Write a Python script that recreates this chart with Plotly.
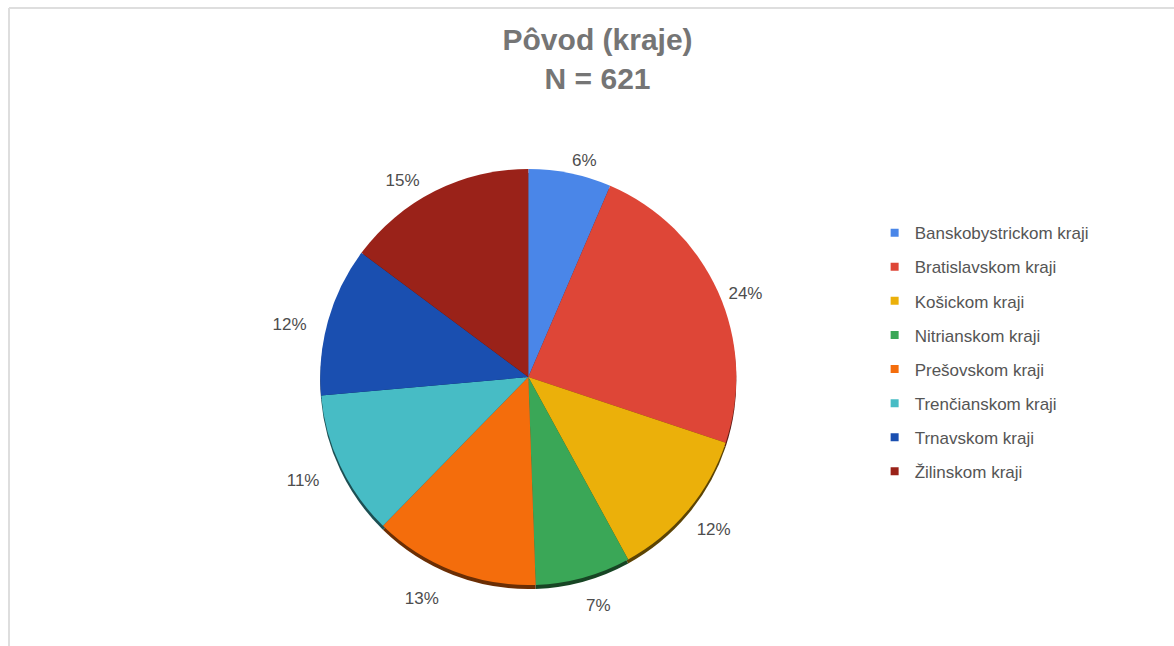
import plotly.graph_objects as go

regions = ["Banskobystrickom kraji", "Bratislavskom kraji", "Košickom kraji",
           "Nitrianskom kraji", "Prešovskom kraji", "Trenčianskom kraji",
           "Trnavskom kraji", "Žilinskom kraji"]
counts = [40, 147, 74, 46, 80, 70, 72, 92]
colors = ["#4a86e8", "#de4637", "#ebb00a", "#3aa757", "#f46d0c",
          "#47bcc5", "#1a4fb0", "#9a2219"]
shadow_colors = ["#1d3560", "#5e1c16", "#5c4404", "#174524", "#6b2e04",
                 "#1c4f53", "#0b2249", "#420e0a"]
title_text = "Pôvod (kraje)<br>N = 621"

fig = go.Figure()
# soft shadow under the pie
fig.add_trace(go.Pie(
    labels=regions, values=counts, sort=False, direction="clockwise", rotation=0,
    marker=dict(colors=shadow_colors, line=dict(width=0)),
    textinfo="none", hoverinfo="skip", showlegend=False,
    domain=dict(x=[0.22, 0.68], y=[0.0944 - 4/646, 0.7384 - 4/646]),
))
# main pie
fig.add_trace(go.Pie(
    labels=regions, values=counts, sort=False, direction="clockwise", rotation=0,
    marker=dict(colors=colors, line=dict(width=0)),
    textinfo="none", showlegend=False,
    domain=dict(x=[0.22, 0.68], y=[0.0944, 0.7384]),
))
# percentage labels, placed a little further out
fig.add_trace(go.Pie(
    labels=regions, values=counts, sort=False, direction="clockwise", rotation=0,
    marker=dict(colors=["rgba(0,0,0,0)"] * len(regions), line=dict(width=0)),
    textposition="outside", texttemplate="%{percent:.0%}",
    textfont=dict(family="Liberation Sans, Arial", size=17, color="#4d4d4d"),
    hoverinfo="skip", showlegend=False,
    domain=dict(x=[0.2155, 0.6755], y=[0.0635, 0.7446]),
))
for name, col in zip(regions, colors):
    fig.add_trace(go.Scatter(
        x=[None], y=[None], mode="markers", name=name, legendgroup=name,
        marker=dict(symbol="square", size=8, color=col),
        showlegend=True,
    ))

fig.update_layout(
    width=1174, height=646,
    margin=dict(l=0, r=0, t=0, b=0),
    paper_bgcolor="white", plot_bgcolor="white",
    xaxis=dict(visible=False), yaxis=dict(visible=False),
    title=dict(text=title_text, x=0.509, xanchor="center", y=0.922, yanchor="top",
               font=dict(family="Liberation Sans, Arial", size=30, color="#757575", weight="bold")),
    legend=dict(x=0.745, xanchor="left", y=0.667, yanchor="top",
                font=dict(family="Liberation Sans, Arial", size=17, color="#555555"),
                tracegroupgap=9, itemwidth=30, bgcolor="rgba(0,0,0,0)"),
    shapes=[
        dict(type="line", xref="paper", yref="paper", x0=9/1174, x1=9/1174, y0=0, y1=1-8/646,
             line=dict(color="#dedede", width=2)),
        dict(type="line", xref="paper", yref="paper", x0=9/1174, x1=1, y0=1-8/646, y1=1-8/646,
             line=dict(color="#dedede", width=2)),
    ],
)
fig.write_html("out.html")
